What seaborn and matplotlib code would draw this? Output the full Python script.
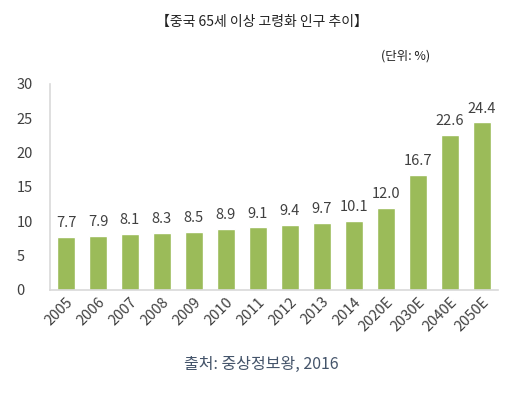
import matplotlib
matplotlib.use('Agg')
import pandas as pd
import matplotlib.pyplot as plt
import seaborn as sns

# chart data
years = ['2005', '2006', '2007', '2008', '2009', '2010', '2011', '2012', '2013',
         '2014', '2020E', '2030E', '2040E', '2050E']
ratios = [7.7, 7.9, 8.1, 8.3, 8.5, 8.9, 9.1, 9.4, 9.7, 10.1, 12.0, 16.7, 22.6, 24.4]
y_ticks = [0, 5, 10, 15, 20, 25, 30]

# trend arrow (start/end in data units)
arrow_start = (0, 12.8)
arrow_end = (12.9, 30.3)

df = pd.DataFrame({'year': years, 'ratio': ratios})

sns.set_style('white')
plt.rcParams['font.family'] = ['Noto Sans CJK KR', 'DejaVu Sans']
text_color = '#404040'

fig = plt.figure(figsize=(5.23, 3.96), dpi=100)
ax = fig.add_axes([0.0956, 0.268, 0.856, 0.52])

sns.barplot(data=df, x='year', y='ratio', color='#9BBB59', width=0.57,
            saturation=1, ax=ax)

for i, v in enumerate(ratios):
    ax.text(i, v + 1.0, f'{v:.1f}', ha='center', va='bottom',
            fontsize=10.5, color=text_color)

ax.annotate('', xy=arrow_end, xytext=arrow_start,
            arrowprops=dict(arrowstyle='-|>', color='#F4793B', lw=1.0,
                            mutation_scale=7))

ax.set_xlim(-0.5, len(years) - 0.5)
ax.set_ylim(0, 30)
ax.set_yticks(y_ticks)
ax.set_xlabel('')
ax.set_ylabel('')
ax.tick_params(axis='both', length=0, colors=text_color, labelsize=10.5)
ax.tick_params(axis='y', pad=24)
plt.setp(ax.get_xticklabels(), rotation=45, ha='right', rotation_mode='anchor')
for lab in ax.get_yticklabels():
    lab.set_horizontalalignment('left')

for s in ['top', 'right']:
    ax.spines[s].set_visible(False)
for s in ['left', 'bottom']:
    ax.spines[s].set_color('#D9D9D9')
    ax.spines[s].set_linewidth(1.2)

fig.text(0.5, 0.944, '【중국 65세 이상 고령화 인구 추이】', ha='center', va='center',
         fontsize=10, color='#222222')
fig.text(0.775, 0.858, '(단위: %)', ha='center', va='center',
         fontsize=9, color='#222222')
fig.text(0.5, 0.08, '출처: 중상정보왕, 2016', ha='center', va='center',
         fontsize=11.5, color='#44546A')

fig.savefig('out.png', dpi=100)
